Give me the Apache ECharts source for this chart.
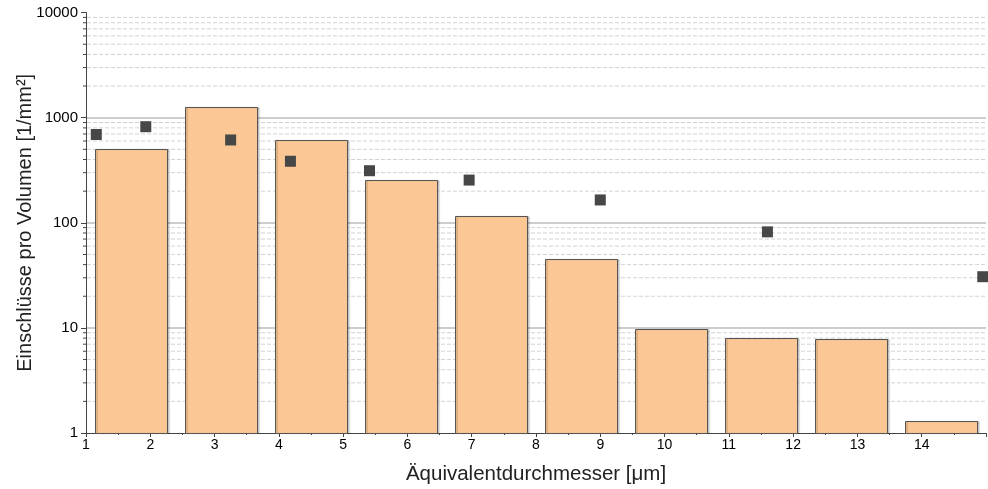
<!DOCTYPE html>
<html><head><meta charset="utf-8">
<script src="https://cdn.jsdelivr.net/npm/echarts@6/dist/echarts.min.js"></script>
<style>html,body{margin:0;padding:0;background:#fff}#c{width:988px;height:489px}</style>
</head><body><div id="c"></div>
<script>
// Bars: class bins (centers on the x axis) and heights
const barCenters = [1.7, 3.1, 4.5, 5.9, 7.3, 8.7, 10.1, 11.5, 12.9, 14.3];
const barValues = [504, 1256, 618, 255, 116, 45, 9.8, 8.0, 7.8, 1.31];
// Square markers
const pointX = [1.16, 1.93, 3.25, 4.18, 5.41, 6.96, 9.0, 11.6, 14.95];
const pointY = [692, 821, 614, 385, 313, 255, 165, 82, 30.7];
// Tick labels
const xTickLabels = ['1','2','3','4','5','6','7','8','9','10','11','12','13','14'];
const yTickLabels = ['1','10','100','1000','10000'];
// Minor log ticks / dashed grid lines
const yMinorValues = [2,3,4,5,6,7,8,9,20,30,40,50,60,70,80,90,200,300,400,500,600,700,800,900,2000,3000,4000,5000,6000,7000,8000,9000];

const BAR_HALF = 0.56;
const FONT = 'Liberation Sans, Arial, sans-serif';

const chart = echarts.init(document.getElementById('c'), null, {renderer: 'canvas'});
chart.setOption({
  animation: false,
  backgroundColor: '#fff',
  grid: {left: 86, right: 2, top: 12.6, bottom: 56, containLabel: false, outerBoundsMode: 'none'},
  xAxis: {
    type: 'value', min: 1, max: 15, interval: 1,
    name: 'Äquivalentdurchmesser [μm]', nameLocation: 'middle', nameGap: 31, nameMoveOverlap: false,
    nameTextStyle: {fontFamily: FONT, fontSize: 20.5, color: '#222'},
    axisLine: {show: true, lineStyle: {color: '#444', width: 1}},
    axisTick: {show: true, inside: false, length: 4, lineStyle: {color: '#444'}},
    minorTick: {show: true, splitNumber: 2, length: 2, lineStyle: {color: '#444'}},
    axisLabel: {fontFamily: FONT, fontSize: 14, color: '#000', margin: 5,
      formatter: v => (v >= 1 && v <= 14) ? xTickLabels[Math.round(v) - 1] : ''},
    splitLine: {show: false}
  },
  yAxis: {
    type: 'log', logBase: 10, min: 1, max: 10000,
    name: 'Einschlüsse pro Volumen [1/mm²]', nameLocation: 'middle', nameGap: 51, nameMoveOverlap: false,
    nameTextStyle: {fontFamily: FONT, fontSize: 20, color: '#222'},
    axisLine: {show: true, lineStyle: {color: '#444', width: 1}},
    axisTick: {show: true, inside: false, length: 5, lineStyle: {color: '#444'}},
    minorTick: {show: false},
    axisLabel: {fontFamily: FONT, fontSize: 15, color: '#000', margin: 8,
      formatter: v => yTickLabels[Math.round(Math.log10(v))]},
    splitLine: {show: true, showMinLine: false, showMaxLine: false,
      lineStyle: {color: '#bcbcbc', width: 1.5, type: 'solid'}}
  },
  series: [
    {
      type: 'custom', z: 1, silent: true,
      data: yMinorValues.map(v => [1, v]),
      encode: {x: 0, y: 1},
      renderItem: function (params, api) {
        const cs = params.coordSys;
        const y = api.coord([1, api.value(1)])[1];
        return {
          type: 'group',
          children: [
            {type: 'line', shape: {x1: cs.x + 1, y1: y, x2: cs.x + cs.width, y2: y},
             style: {stroke: '#d2d2d2', lineWidth: 1, lineDash: [4, 2]}},
            {type: 'line', shape: {x1: cs.x - 3, y1: y, x2: cs.x, y2: y},
             style: {stroke: '#444', lineWidth: 1}}
          ]
        };
      }
    },
    {
      type: 'custom', z: 2,
      data: barCenters.map((c, i) => [c, barValues[i]]),
      encode: {x: 0, y: 1},
      renderItem: function (params, api) {
        const c = api.value(0), v = api.value(1);
        const p0 = api.coord([c - BAR_HALF, v]);
        const p1 = api.coord([c + BAR_HALF, 1]);
        return {
          type: 'rect',
          shape: {x: Math.round(p0[0]) + 0.5, y: Math.round(p0[1]) + 0.5,
                  width: Math.round(p1[0] - p0[0]), height: p1[1] - Math.round(p0[1])},
          style: {fill: '#fbc895', stroke: '#555', lineWidth: 1,
                  shadowColor: 'rgba(0,0,0,0.25)', shadowOffsetX: 1.5, shadowOffsetY: 0, shadowBlur: 1}
        };
      }
    },
    {
      type: 'scatter', z: 3,
      symbol: 'rect', symbolSize: 11,
      itemStyle: {color: '#474747', opacity: 1},
      data: pointX.map((x, i) => [x, pointY[i]])
    }
  ]
});
</script>
</body></html>
